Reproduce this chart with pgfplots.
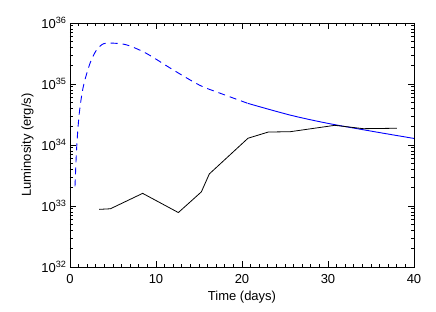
\documentclass[border=0pt]{standalone}
\usepackage{pgfplots}
\pgfplotsset{compat=1.18}
\usepackage{fontspec}
\setmainfont{Liberation Sans}
\begin{document}
\begin{tikzpicture}
\begin{axis}[
  scale only axis,
  width=344pt, height=244pt,
  xmin=0, xmax=40,
  ymode=log, log basis y=10,
  ymin=1e32, ymax=1e36,
  xtick={0,10,20,30,40},
  minor x tick num=9,
  ytick={1e32,1e33,1e34,1e35,1e36},
  minor ytick={2e32,3e32,4e32,5e32,6e32,7e32,8e32,9e32,
               2e33,3e33,4e33,5e33,6e33,7e33,8e33,9e33,
               2e34,3e34,4e34,5e34,6e34,7e34,8e34,9e34,
               2e35,3e35,4e35,5e35,6e35,7e35,8e35,9e35},
  yticklabels={10\textsuperscript{32},10\textsuperscript{33},10\textsuperscript{34},10\textsuperscript{35},10\textsuperscript{36}},
  /pgf/number format/assume math mode=true,
  tick style={black, line width=0.6pt},
  major tick length=6pt,
  minor tick length=3pt,
  axis line style={line width=0.8pt},
  xlabel={Time (days)},
  ylabel={Luminosity (erg/s)},
  xticklabel style={yshift=-4pt},
  xlabel style={yshift=-1pt},
  ylabel style={yshift=1pt},
  tick label style={font=\fontsize{13}{15}\selectfont},
  label style={font=\fontsize{13}{15}\selectfont},
]
% model curve, early part (dashed)
\addplot[blue, line width=0.9pt, dash pattern=on 7pt off 5pt, smooth] coordinates {
  (0.58,2.09e33) (0.78,9.3e33) (1.08,3.31e34) (1.55,9.1e34) (2.33,2.19e35)
  (3.1,3.63e35) (3.9,4.57e35) (4.85,4.68e35) (6.6,4.37e35) (8.9,3.16e35)
  (12.0,1.70e35) (15.1,9.5e34) (17.4,7.1e34) (20.7,4.8e34)
};
% model curve, late part (solid)
\addplot[blue, line width=0.9pt, smooth] coordinates {
  (20.7,4.8e34) (25.6,3.09e34) (30.0,2.26e34) (35.3,1.66e34) (40.0,1.28e34)
};
% observed light curve
\addplot[black, line width=0.8pt] coordinates {
  (3.4,8.8e32) (4.7,9.0e32) (8.45,1.61e33) (12.6,7.8e32) (15.27,1.70e33)
  (16.2,3.35e33) (20.7,1.29e34) (23.06,1.63e34) (25.6,1.65e34)
  (30.8,2.10e34) (34.1,1.85e34) (38.0,1.88e34)
};
\coordinate (bl) at (rel axis cs:0,0);
\end{axis}
\pgfresetboundingbox
\path ([shift={(-70pt,-45pt)}]bl) rectangle ([shift={(366pt,267pt)}]bl);
\end{tikzpicture}
\end{document}
